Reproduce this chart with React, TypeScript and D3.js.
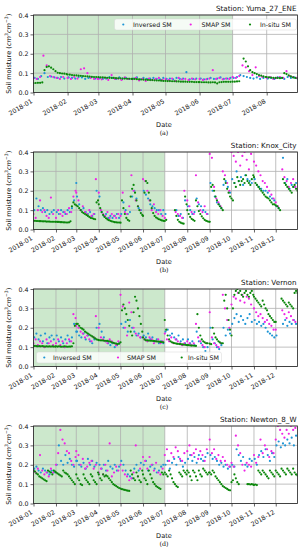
import React, { useEffect, useRef } from 'react';
import * as d3 from 'd3';

// Values (cm3/cm3), grouped by month (Jan..Dec).
// In-situ: one reading every 2 days from the 1st of the month.
// SMAP: every 3 days from the 1st, Inversed: every 3 days from the 2nd.

// ---- (a) Yuma_27_ENE ----
const yumaInsitu = [
  [.048,.049,.05,.05,.052,.115,.132,.135,.128,.12,.11,.102,.1,.098,.097,.095],
  [.093,.092,.09,.089,.088,.087,.086,.085,.084,.083,.082,.081,.08,.08],
  [.079,.078,.078,.077,.076,.076,.075,.075,.074,.073,.073,.072,.072,.071,.071,.07],
  [.07,.07,.069,.068,.067,.066,.066,.065,.064,.064,.063,.062,.062,.061,.06],
  [.06,.059,.059,.058,.058,.057,.057,.056,.056,.056,.055,.055,.055,.054,.054,.054],
  [.054,.053,.053,.053,.052,.052,.053,.052,.047,.053,.054,.055,.055,.055,.055],
  [.056,.056,.057,.058,null,.175,.16,.135,.115,.105,.1,.095,.09,.087,.083,.08],
  [.08,.078,.077,.076,.075,.075,.074,.075,.1,.095,.088,.083,.078,.075,.073],
];
const yumaSmap = [
  [.075,.07,.08,.19,.14,.085,.08,.075,.07,.08],
  [.075,.07,.08,.072,.12,.125,.1,.075,.07,.072],
  [.07,.068,.075,.065,.09,.07,.072,.065,.078,.07],
  [.068,.075,.062,.07,.06,.072,.065,.07,.075,.065],
  [.07,.065,.072,.06,.075,.068,.07,.065,.072,.068],
  [.07,.065,.068,.072,.115,.07,.075,.068,.072,.07],
  [.08,.075,.085,.14,.13,.11,.09,.13,.085,.08],
  [.075,.08,.07,.075,.08,.075,.11,.085,.08,.075],
];
const yumaInv = [
  [.075,.07,.085,.1,.08,.082,.078,.075,.08,.072],
  [.078,.075,.072,.08,.078,.07,.075,.08,.072,.07],
  [.075,.07,.072,.08,.075,.07,.078,.072,.075,.07],
  [.072,.078,.068,.075,.07,.072,.075,.07,.068,.075],
  [.07,.072,.068,.075,.07,.072,.105,.068,.07,.072],
  [.072,.068,.07,.075,.07,.072,.078,.07,.072,.075],
  [.075,.08,.09,.085,.08,.075,.072,.078,.07,.075],
  [.072,.075,.07,.078,.075,.07,.08,.075,.078,.072],
];

// ---- (b) Knox_City ----
const knoxInsitu = [
  [.045,.045,.044,.044,.043,.043,.042,.042,.042,.041,.041,.041,.04,.04,.04,.04],
  [.04,.039,.039,.038,.038,.037,.037,.036,.036,.037,.042,.12,.14,.13],
  [.125,.12,.11,.1,.09,.085,.08,.075,.07,.065,.06,.058,.055,.053,.14,.15],
  [.13,.11,.09,.075,.065,.058,.052,.048,.045,.042,.04,.038,.037,.036,.036],
  [.035,.15,.11,.08,.06,.05,.045,.17,.21,.23,.19,.15,.12,.1,.085,.075],
  [.07,.19,.25,.24,.19,.15,.11,.085,.07,.062,.057,.053,.05,.047,.045],
  [.044,.05,null,null,null,null,null,.1,.07,.05,.04,.035,.032,.03,.17,.13],
  [.1,.08,.065,.055,.05,.045,.15,.12,.095,.08,.068,.058,.05,.045,.042,.04],
  [.04,.22,.23,.2,.17,.15,.13,.12,.11,.1,.26,.24,.21,.19,.17],
  [.16,.15,.24,.22,.27,.25,.23,.25,.26,.24,.28,.25,.24,.23,.26,.28],
  [.27,.24,.23,.22,.21,.2,.19,.18,.17,.165,.16,.15,.14,.13,.13],
  [.125,.12,.11,.1,null,.26,.24,.23,.22,.21,.2,.19,.22,.23,.21,.2],
];
const knoxSmap = [
  [.08,.06,.1,.15,.09,.1,.07,.06,.165,.08],
  [.06,.1,.08,.07,.09,.08,.11,.09,.17,.2],
  [.19,.15,.1,.12,.09,.08,.1,.07,.08,.26],
  [.19,.1,.08,.07,.09,.06,.08,.07,.06,.08],
  [.07,.19,.09,.08,.12,.28,.2,.15,.12,.1],
  [.26,.25,.2,.15,.1,.13,.09,.08,.1,.07],
  [.06,null,null,null,null,.09,.08,.07,.06,.2],
  [.15,.12,.09,.08,.28,.14,.1,.09,.12,.08],
  [.39,.37,.22,.16,.14,.12,.3,.28,.24,.2],
  [.4,.38,.35,.4,.33,.38,.4,.36,.31,.39],
  [.35,.33,.3,.28,.25,.24,.22,.2,.18,.16],
  [.14,.12,null,.31,.27,.25,.22,.24,.26,.22],
];
const knoxInv = [
  [.1,.16,.12,.1,.11,.09,.1,.08,.09,.1],
  [.09,.08,.1,.09,.08,.1,.09,.11,.15,.24],
  [.17,.13,.1,.11,.09,.08,.09,.07,.08,.2],
  [.17,.09,.07,.08,.06,.07,.06,.07,.08,.06],
  [.08,.14,.1,.08,.09,.17,.2,.16,.11,.1],
  [.2,.18,.16,.13,.12,.11,.1,.1,.08,.1],
  [.08,null,null,null,null,.1,.07,.08,.06,.15],
  [.12,.1,.08,.09,.16,.13,.12,.1,.09,.08],
  [.24,.2,.17,.14,.13,.11,.23,.25,.22,.19],
  [.26,.24,.3,.25,.27,.23,.28,.26,.25,.24],
  [.26,.23,.22,.21,.2,.2,.19,.17,.16,.15],
  [.12,.11,null,.37,.24,.26,.21,.23,.22,.24],
];

// ---- (c) Vernon ----
const vernonInsitu = [
  [.105,.106,.105,.104,.105,.104,.105,.104,.103,.104,.103,.104,.103,.104,.103,.103],
  [.104,.103,.104,.103,.102,.103,.104,.103,.102,.103,.103,.104,.12,.21],
  [.22,.22,.21,.2,.195,.19,.18,.175,.17,.165,.16,.155,.15,.145,.14,.138],
  [.136,.135,.135,.134,.133,.133,.132,.13,.128,.125,.122,.12,.118,.116,.118],
  [.125,.29,.32,.3,.27,.24,.21,.18,.16,.28,.36,.34,.3,.26,.22,.18],
  [.15,.14,.135,.135,.134,.133,.133,.132,.131,.13,.129,.128,.127,.126,.125],
  [.24,.19,.16,.14,.13,.125,.122,.12,.118,.117,.116,.115,.114,.113,.112,.111],
  [.11,.11,.109,.108,.108,.107,.106,.27,.2,.16,.14,.13,.125,.12,.12],
  [.118,.115,.2,.17,.15,.14,.13,.125,.12,.12,.34,.37,.3,.24,.19],
  [.16,.3,.37,.39,.4,.38,.39,.37,.36,.38,.39,.37,.36,.38,.39,.37],
  [.36,.35,.34,.33,.32,.31,.34,.32,.3,.29,.27,.26,.25,.24,.23],
  [.23,null,null,null,.35,.34,.33,.32,.31,.33,.32,.31,.3,.38,.39,.38],
];
const vernonSmap = [
  [.12,.14,.11,.13,.12,.1,.14,.12,.13,.11],
  [.12,.14,.11,.13,.1,.12,.14,.13,.27,.25],
  [.21,.2,.18,.17,.15,.16,.14,.13,.15,.26],
  [.2,.15,.14,.13,.12,.14,.13,.12,.11,.13],
  [.37,.31,.2,.16,.33,.28,.2,.17,.16,.15],
  [.15,.14,.13,.15,.14,.12,.13,.14,.12,.13],
  [.17,.14,.13,.15,.12,.14,.13,.12,.11,.12],
  [.13,.12,.11,.12,.22,.15,.13,.11,.1,.12],
  [.28,.15,.12,.11,.1,.12,.37,.3,.24,.2],
  [.32,.36,.35,.38,.34,.37,.33,.36,.35,.32],
  [.3,.28,.26,.27,.25,.23,.24,.22,.21,.19],
  [.19,null,null,.29,.27,.25,.28,.26,.24,.23],
];
const vernonInv = [
  [.15,.17,.14,.16,.13,.17,.12,.15,.16,.14],
  [.16,.13,.15,.12,.14,.16,.13,.15,.22,.18],
  [.18,.16,.15,.17,.14,.16,.13,.12,.14,.2],
  [.22,.18,.15,.13,.12,.11,.12,.1,.11,.12],
  [.22,.2,.23,.18,.24,.2,.18,.16,.17,.15],
  [.16,.15,.17,.14,.15,.13,.14,.12,.13,.12],
  [.18,.19,.16,.17,.15,.14,.16,.13,.14,.12],
  [.14,.12,.13,.11,.18,.13,.12,.1,.08,.1],
  [.2,.14,.12,.1,.09,.11,.2,.16,.19,.17],
  [.22,.25,.27,.23,.26,.24,.22,.25,.27,.23],
  [.24,.22,.23,.21,.22,.2,.18,.17,.16,.15],
  [.16,null,null,.22,.24,.21,.23,.22,.24,.22],
];

// ---- (d) Newton_8_W ----
const newtonInsitu = [
  [.17,.165,.155,.15,.14,.135,.13,.125,.12,.115,.17,.165,.16,.15,.17,.165],
  [.16,.155,.15,.145,.14,.17,.16,.155,.15,.14,.13,.12,.11,.1],
  [.15,.13,.12,.1,.095,.15,.13,.12,.11,.1,.15,.14,.12,.11,.1,.16],
  [.15,.13,.12,.15,.14,.145,.14,.13,.12,.11,.1,.095,.09,.085,.08],
  [.077,.074,.072,.07,.068,.066,.065,.17,.15,.13,.12,.16,.14,.12,.11,.17],
  [.15,.13,.12,.1,.17,.15,.13,.11,.1,.09,.085,.08,.075,.16,.15],
  [.16,.15,.14,.17,.15,.13,.11,.1,.09,.085,.16,.15,.14,.17,.16,.15],
  [.17,.16,.14,.12,.17,.16,.14,.12,.17,.15,.14,.18,.17,.16,.15,.16],
  [.16,.15,.17,.16,.14,.13,.12,.11,.1,.09,.085,.08,.075,.07,.068],
  [.11,.12,.15,.13,.11,.1,null,null,null,null,null,.1,.1,.098,.1,.097],
  [.096,.098,.095,.17,.16,.15,.17,.16,.15,.14,.13,.17,.16,.15,.14],
  [.17,.16,.15,.14,.18,.17,.16,.15,.18,.17,.16,.15,.18,.16,.15,.145],
];
const newtonSmap = [
  [.17,.16,.18,.25,.17,.15,.16,.14,.18,.16],
  [.2,.26,.38,.33,.31,.27,.26,.22,.2,.24],
  [.27,.25,.2,.23,.18,.19,.21,.22,.18,.2],
  [.16,.18,.15,.2,.17,.31,.14,.16,.19,.17],
  [.2,.17,.15,.14,.12,.13,.16,.3,.14,.18],
  [.24,.22,.18,.24,.2,.17,.21,.16,.15,.18],
  [.25,.28,.22,.26,.24,.29,.27,.23,.22,.26],
  [.27,.3,.25,.26,.28,.23,.27,.25,.22,.28],
  [.33,.26,.28,.23,.25,.22,.24,.22,.2,.19],
  [.21,.19,.35,.3,.26,.2,.17,.21,.2,.19],
  [.25,.21,.24,.33,.26,.3,.28,.24,.27,.26],
  [.33,.4,.38,.36,.34,.38,.36,.4,.38,.39],
];
const newtonInv = [
  [.18,.19,.17,.16,.18,.17,.16,.15,.17,.16],
  [.2,.3,.22,.2,.25,.21,.23,.2,.19,.22],
  [.22,.2,.19,.21,.18,.23,.2,.22,.19,.21],
  [.2,.18,.2,.17,.22,.19,.18,.2,.17,.19],
  [.22,.2,.17,.15,.14,.13,.18,.2,.17,.21],
  [.2,.22,.17,.19,.2,.18,.16,.17,.19,.2],
  [.2,.22,.18,.21,.23,.2,.24,.22,.19,.21],
  [.23,.25,.22,.24,.21,.25,.23,.22,.24,.26],
  [.25,.23,.24,.22,.2,.21,.19,.2,.18,.19],
  [.2,.19,.28,.25,.22,.24,.2,.19,.23,.22],
  [.23,.2,.25,.27,.24,.28,.25,.22,.26,.24],
  [.3,.32,.29,.31,.3,.33,.31,.34,.3,.35],
];

const stations = ['Yuma_27_ENE', 'Knox_City', 'Vernon', 'Newton_8_W'];
const tags = ['(a)', '(b)', '(c)', '(d)'];
const yTicks = [0, 0.1, 0.2, 0.3, 0.4];
const seriesNames = ['Inversed SM', 'SMAP SM', 'In-situ SM'];
const colors = ['#1d95d6', '#ee22e6', '#0b870b'];

const panels = [
  { insitu: yumaInsitu, smap: yumaSmap, inv: yumaInv, end: new Date(2018, 7, 29) },
  { insitu: knoxInsitu, smap: knoxSmap, inv: knoxInv, end: new Date(2018, 11, 31) },
  { insitu: vernonInsitu, smap: vernonSmap, inv: vernonInv, end: new Date(2018, 11, 31) },
  { insitu: newtonInsitu, smap: newtonSmap, inv: newtonInv, end: new Date(2018, 11, 31) },
];

type Pt = { date: Date; v: number };

// turn month lists into dated points
const expand = (months: (number | null)[][], step: number, first: number): Pt[] =>
  months
    .flatMap((vals, m) => vals.map((v, i) => ({ date: new Date(2018, m, first + i * step), v })))
    .filter((d) => d.v !== null) as Pt[];

const FONT = 'DejaVu Sans, sans-serif';

const App = () => {
  const svgRef = useRef<SVGSVGElement>(null);

  useEffect(() => {
    const svg = d3.select(svgRef.current);
    svg.selectAll('*').remove();

    const left = 33.5;
    const right = 297.5;
    const plotH = 77.5;
    const start = new Date(2018, 0, 1);

    panels.forEach((p, k) => {
      const top = 15 + k * 137;
      const bottom = top + plotH;
      const x = d3.scaleTime().domain([start, p.end]).range([left, right]);
      const y = d3.scaleLinear().domain([0, 0.4]).range([bottom, top]);
      const g = svg.append('g');

      g.append('clipPath')
        .attr('id', `clip${k}`)
        .append('rect')
        .attr('x', left)
        .attr('y', top)
        .attr('width', right - left)
        .attr('height', plotH);

      // training period shading (Jan - Jun)
      g.append('rect')
        .attr('x', x(start))
        .attr('y', top)
        .attr('width', x(new Date(2018, 6, 1)) - x(start))
        .attr('height', plotH)
        .attr('fill', '#cce8cc');

      // grid
      const months = d3.timeMonth.range(start, d3.timeDay.offset(p.end, 1));
      g.selectAll('.vg')
        .data(months)
        .enter()
        .append('line')
        .attr('x1', (d) => x(d))
        .attr('x2', (d) => x(d))
        .attr('y1', top)
        .attr('y2', bottom)
        .attr('stroke', '#b0b0b0')
        .attr('stroke-width', 0.8);
      g.selectAll('.hg')
        .data(yTicks)
        .enter()
        .append('line')
        .attr('x1', left)
        .attr('x2', right)
        .attr('y1', (d) => y(d))
        .attr('y2', (d) => y(d))
        .attr('stroke', '#b0b0b0')
        .attr('stroke-width', 0.8);

      // scatter
      const layers = [expand(p.inv, 3, 2), expand(p.smap, 3, 1), expand(p.insitu, 2, 1)];
      const dots = g.append('g').attr('clip-path', `url(#clip${k})`);
      layers.forEach((pts, s) => {
        dots
          .append('g')
          .selectAll('circle')
          .data(pts.filter((d) => d.date <= p.end))
          .enter()
          .append('circle')
          .attr('cx', (d) => x(d.date))
          .attr('cy', (d) => y(d.v))
          .attr('r', 1.1)
          .attr('fill', colors[s]);
      });

      // frame
      g.append('rect')
        .attr('x', left)
        .attr('y', top)
        .attr('width', right - left)
        .attr('height', plotH)
        .attr('fill', 'none')
        .attr('stroke', '#222')
        .attr('stroke-width', 0.8);

      // axes
      const xAxis = g
        .append('g')
        .attr('transform', `translate(0,${bottom})`)
        .call(d3.axisBottom(x).tickValues(months).tickFormat(d3.timeFormat('%Y-%m') as any).tickSize(3));
      xAxis.select('.domain').remove();
      xAxis
        .selectAll('text')
        .attr('x', 0)
        .attr('y', 0)
        .attr('dy', null)
        .attr('text-anchor', 'end')
        .attr('transform', 'translate(-1,10) rotate(-30)');
      const yAxis = g
        .append('g')
        .attr('transform', `translate(${left},0)`)
        .call(d3.axisLeft(y).tickValues(yTicks).tickFormat(d3.format('.1f')).tickSize(3).tickPadding(2));
      yAxis.select('.domain').remove();
      [xAxis, yAxis].forEach((a) => {
        a.attr('font-family', FONT).attr('font-size', 6.3);
        a.selectAll('line').attr('stroke', '#222').attr('stroke-width', 0.7);
        a.selectAll('text').attr('fill', '#111');
      });

      // labels
      g.append('text')
        .attr('x', right - 1)
        .attr('y', top - 4)
        .attr('text-anchor', 'end')
        .attr('font-family', FONT)
        .attr('font-size', 7.2)
        .attr('fill', '#111')
        .text(`Station: ${stations[k]}`);
      g.append('text')
        .attr('x', 164)
        .attr('y', bottom + 34)
        .attr('text-anchor', 'middle')
        .attr('font-family', FONT)
        .attr('font-size', 6.6)
        .attr('fill', '#111')
        .text('Date');
      g.append('text')
        .attr('x', 164)
        .attr('y', bottom + 42)
        .attr('text-anchor', 'middle')
        .attr('font-family', 'DejaVu Serif, serif')
        .attr('font-size', 6.3)
        .attr('fill', '#111')
        .text(tags[k]);

      const yl = g
        .append('text')
        .attr('transform', `translate(11,${(top + bottom) / 2}) rotate(-90)`)
        .attr('text-anchor', 'middle')
        .attr('font-family', FONT)
        .attr('font-size', 6.6)
        .attr('fill', '#111');
      yl.append('tspan').text('Soil moisture (');
      yl.append('tspan').attr('font-style', 'italic').text('cm');
      yl.append('tspan').attr('font-size', 4.6).attr('dy', -2.6).text('3');
      yl.append('tspan').attr('font-style', 'italic').attr('dy', 2.6).text('cm');
      yl.append('tspan').attr('font-size', 4.6).attr('dy', -2.6).text('\u22123');
      yl.append('tspan').attr('dy', 2.6).text(')');

      // legends on (a) and (c)
      const legendSpec =
        k === 0
          ? { x: 114.5, y: 19, w: 182, marks: [123.3, 190.7, 250], texts: [133, 201.5, 260] }
          : k === 2
          ? { x: 36.5, y: 352, w: 185, marks: [44.3, 118, 181.7], texts: [53, 127, 188] }
          : null;
      if (legendSpec) {
        const lg = g.append('g');
        lg.append('rect')
          .attr('x', legendSpec.x)
          .attr('y', legendSpec.y)
          .attr('width', legendSpec.w)
          .attr('height', 11)
          .attr('rx', 2)
          .attr('fill', 'white')
          .attr('fill-opacity', 0.8)
          .attr('stroke', '#d6d6d6')
          .attr('stroke-width', 0.5);
        seriesNames.forEach((name, s) => {
          lg.append('circle')
            .attr('cx', legendSpec.marks[s])
            .attr('cy', legendSpec.y + 5.5)
            .attr('r', 1.1)
            .attr('fill', colors[s]);
          lg.append('text')
            .attr('x', legendSpec.texts[s])
            .attr('y', legendSpec.y + 7.8)
            .attr('font-family', FONT)
            .attr('font-size', 6.3)
            .attr('fill', '#111')
            .text(name);
        });
      }
    });
  }, []);

  return (
    <div style={{ position: 'absolute', left: 0, top: 0, width: 303, height: 550, background: 'white' }}>
      <svg ref={svgRef} width={303} height={550} style={{ display: 'block' }} />
    </div>
  );
};

export default App;
